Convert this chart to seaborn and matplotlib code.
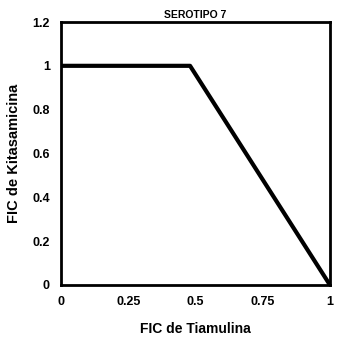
import pandas as pd
import numpy as np
import matplotlib.pyplot as plt
import seaborn as sns

# Configuración visual
sns.set_style("white")
plt.rcParams["font.family"] = ["Liberation Sans", "DejaVu Sans"]
plt.rcParams["text.color"] = "black"
plt.rcParams["axes.labelcolor"] = "black"
plt.rcParams["xtick.color"] = "black"
plt.rcParams["ytick.color"] = "black"

# Datos (isobolograma)
fic_tiamulina = [0.0, 0.48, 1.0]
fic_kitasamicina = [1.0, 1.0, 0.0]
xticks = [0, 0.25, 0.5, 0.75, 1]
xtick_labels = ["0", "0.25", "0.5", "0.75", "1"]
yticks = [0, 0.2, 0.4, 0.6, 0.8, 1.0, 1.2]
ytick_labels = ["0", "0.2", "0.4", "0.6", "0.8", "1", "1.2"]

df = pd.DataFrame({"x": fic_tiamulina, "y": fic_kitasamicina})

fig = plt.figure(figsize=(3.39, 3.44), dpi=100)
ax = fig.add_axes([0.18, 0.172, 0.793, 0.764])
sns.lineplot(data=df, x="x", y="y", ax=ax, color="black", linewidth=3)

ax.set_xlim(0, 1)
ax.set_ylim(0, 1.2)
ax.set_xticks(xticks)
ax.set_xticklabels(xtick_labels, fontsize=9, fontweight="bold")
ax.set_yticks(yticks)
ax.set_yticklabels(ytick_labels, fontsize=9, fontweight="bold")
ax.tick_params(length=0, pad=8)

for s in ax.spines.values():
    s.set_color("black")
    s.set_linewidth(2)

ax.set_title("SEROTIPO 7", fontsize=7.5, fontweight="heavy", pad=3)
ax.set_xlabel("FIC de Tiamulina", fontsize=10, fontweight="bold", labelpad=10)
ax.set_ylabel("FIC de Kitasamicina", fontsize=10.5, fontweight="bold", labelpad=8)

fig.savefig("out.png", dpi=100)
